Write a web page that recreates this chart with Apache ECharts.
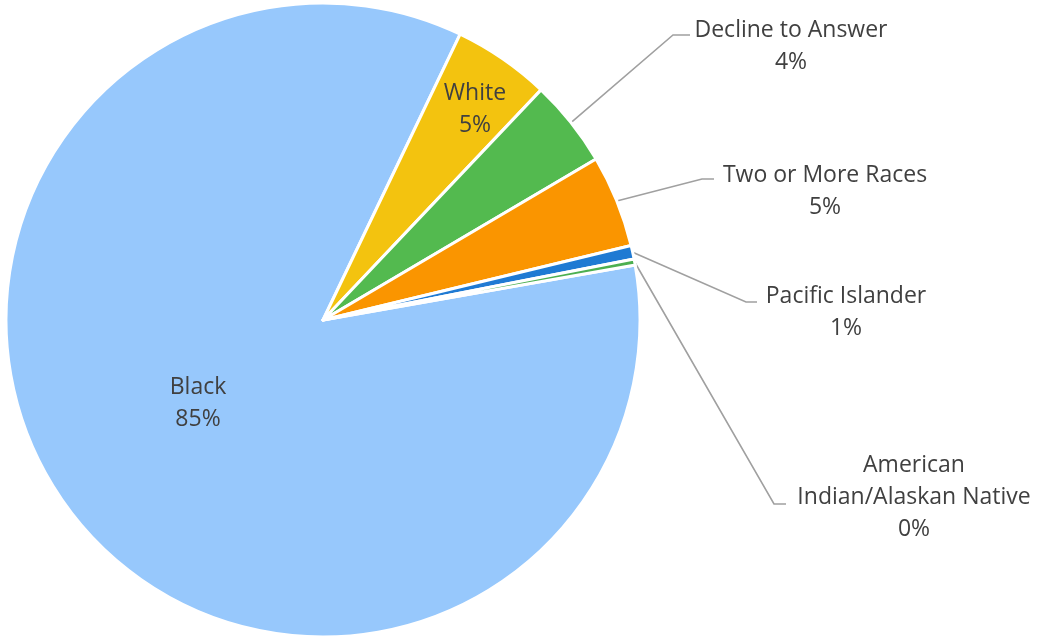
<!DOCTYPE html>
<html>
<head>
<meta charset="utf-8">
<script src="https://cdn.jsdelivr.net/npm/echarts@6/dist/echarts.min.js"></script>
<style>
html,body{margin:0;padding:0;background:#fff;}
#chart{width:1038px;height:637px;}
</style>
</head>
<body>
<div id="chart"></div>
<script>
// ---- data ----
const categories = ['Black', 'White', 'Decline to Answer', 'Two or More Races', 'Pacific Islander', 'American Indian/Alaskan Native'];
const labelNames = ['Black', 'White', 'Decline to Answer', 'Two or More Races', 'Pacific Islander', 'American\nIndian/Alaskan Native'];
const values = [84.9, 4.95, 4.45, 4.7, 0.7, 0.3];

// ---- styles / layout (not data) ----
const colors = ['#97C8FC', '#F3C30F', '#53BA4F', '#FA9500', '#1F7AD3', '#4CAF50'];
const insideLabel = [true, true, false, false, false, false];
// label block centres and leader line elbow/end points
const labelPos = [
  { x: 198, y: 403 },
  { x: 475, y: 109 },
  { x: 791, y: 46, elbow: [673, 35], end: [690, 35] },
  { x: 825, y: 191, elbow: [702, 179], end: [714, 179] },
  { x: 846, y: 312, elbow: [746, 302], end: [757, 302] },
  { x: 914, y: 497, elbow: [774, 504], end: [786, 504] }
];

const chart = echarts.init(document.getElementById('chart'));
const data = categories.map((c, i) => ({
  name: c,
  value: values[i],
  itemStyle: { color: colors[i] },
  label: { position: insideLabel[i] ? 'inside' : 'outside' },
  labelLine: { show: !insideLabel[i] }
}));

chart.setOption({
  animation: false,
  series: [{
    type: 'pie',
    center: [323, 320],
    radius: [0, 317],
    startAngle: 10,
    clockwise: true,
    avoidLabelOverlap: false,
    data: data,
    itemStyle: { borderColor: '#ffffff', borderWidth: 3 },
    label: {
      show: true,
      fontFamily: 'Open Sans',
      fontSize: 23,
      lineHeight: 32,
      color: '#404040',
      align: 'center',
      formatter: p => labelNames[p.dataIndex] + '\n' + Math.round(p.percent) + '%'
    },
    labelLine: {
      show: true,
      lineStyle: { color: '#A0A0A0', width: 1.6 }
    },
    labelLayout: function (params) {
      const lp = labelPos[params.dataIndex];
      const out = { x: lp.x, y: lp.y, align: 'center', verticalAlign: 'middle' };
      if (lp.elbow && params.labelLinePoints) {
        const start = params.labelLinePoints[0];
        out.labelLinePoints = [[start[0], start[1]], lp.elbow, lp.end];
      }
      return out;
    }
  }]
});
</script>
</body>
</html>
